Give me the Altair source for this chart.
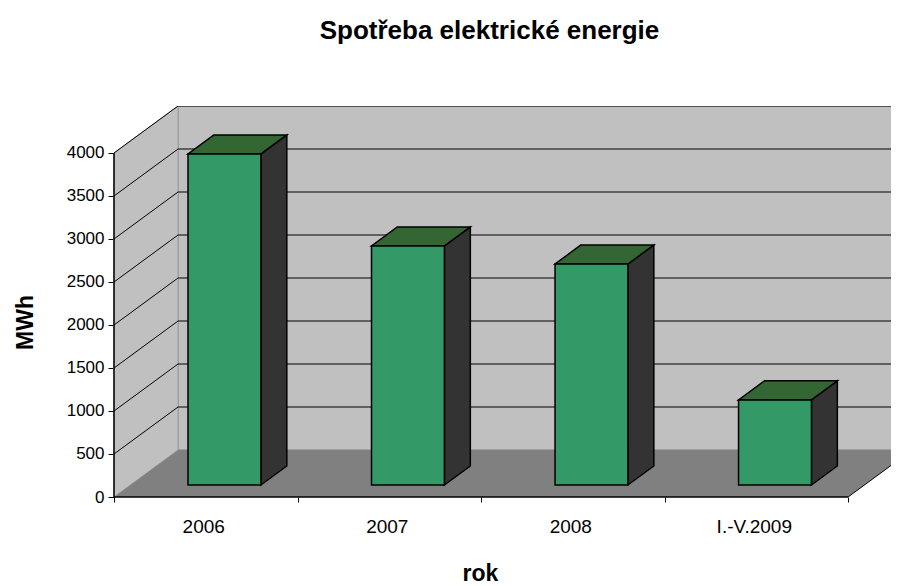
import altair as alt
import pandas as pd

categories = ["2006", "2007", "2008", "I.-V.2009"]
values = [3850, 2780, 2570, 990]
y_ticks = [0, 500, 1000, 1500, 2000, 2500, 3000, 3500, 4000]
x_ticks = [0, 1, 2, 3, 4]

FONT = "Liberation Sans"
DX, DY = 0.3488, 546.5
D1, D2 = 0.255, 0.66
LEFT, RIGHT = 0.3143, 0.7115
XMAX, YMAX = 4.234, 4546.5


def px(slot, d):
    return slot + d * DX


def py(v, d):
    return v + d * DY


xs = alt.Scale(domain=[0, XMAX], nice=False, zero=False)
ys = alt.Scale(domain=[0, YMAX], nice=False, zero=False)
x_axis_def = alt.Axis(
    values=x_ticks, labels=False, domain=False, grid=False, tickColor="black", tickSize=5,
    title="rok", titleFont=FONT, titleFontSize=23, titleFontWeight="bold", titleColor="black",
    titleX=366, titleY=76, titleAlign="center", titleBaseline="middle")
y_axis_def = alt.Axis(
    values=y_ticks, domain=False, grid=False, tickColor="black", tickSize=6, labelFont=FONT,
    labelFontSize=17, labelColor="black", labelPadding=4, format="d",
    title="MWh", titleFont=FONT, titleFontSize=23, titleFontWeight="bold", titleColor="black",
    titleX=-89, titleY=216, titleAlign="center", titleBaseline="middle", titleAngle=270)
X = lambda f="x": alt.X(f"{f}:Q", scale=xs, axis=x_axis_def)
Y = lambda f="y": alt.Y(f"{f}:Q", scale=ys, axis=y_axis_def)

wall_df = pd.DataFrame([{"x": px(0, 1), "x2": XMAX + 1, "y": 0 + DY, "y2": py(4000, 1)}])
wall = alt.Chart(wall_df).mark_rect(fill="#C0C0C0", stroke="#808080", strokeWidth=1, clip=True).encode(
    x=X(), x2="x2:Q", y=Y(), y2="y2:Q")

side_df = pd.DataFrame([
    {"x": 0, "y": 0, "y2": 4000},
    {"x": DX, "y": DY, "y2": py(4000, 1)},
])
side_wall = alt.Chart(side_df).mark_area(fill="#C0C0C0", stroke="#A0A0A0", strokeWidth=1).encode(
    x=X(), y=Y(), y2="y2:Q")

floor_df = pd.DataFrame([
    {"y": 0, "x": 0, "x2": 4},
    {"y": DY, "x": DX, "x2": 4 + DX},
])
floor = alt.Chart(floor_df).mark_area(fill="#808080", orient="horizontal", clip=True).encode(
    y=Y(), x=X(), x2="x2:Q")

grid_rows = []
for t in y_ticks[1:]:
    grid_rows += [
        {"t": t, "x": 0, "y": t, "o": 0},
        {"t": t, "x": DX, "y": py(t, 1), "o": 1},
        {"t": t, "x": XMAX + 1, "y": py(t, 1), "o": 2},
    ]
grid = alt.Chart(pd.DataFrame(grid_rows)).mark_line(color="black", strokeWidth=1, clip=True).encode(
    x=X(), y=Y(), detail="t:N", order="o:Q")

floor_edge_df = pd.DataFrame([{"x": 4, "y": 0}, {"x": 4 + DX, "y": DY}])
floor_edge = alt.Chart(floor_edge_df).mark_line(color="black", strokeWidth=1, clip=True).encode(x=X(), y=Y())

side_rows, top_rows, front_rows = [], [], []
for i, (c, v) in enumerate(zip(categories, values)):
    for d in (D1, D2):
        side_rows.append({"cat": c, "x": px(i + RIGHT, d), "y": py(0, d), "y2": py(v, d)})
        top_rows.append({"cat": c, "y": py(v, d), "x": px(i + LEFT, d), "x2": px(i + RIGHT, d)})
    front_rows.append({"cat": c, "x": px(i + LEFT, D1), "x2": px(i + RIGHT, D1), "y": py(0, D1), "y2": py(v, D1)})

bar_side = alt.Chart(pd.DataFrame(side_rows)).mark_area(fill="#333333", stroke="black", strokeWidth=1.5).encode(
    x=X(), y=Y(), y2="y2:Q", detail="cat:N")
bar_top = alt.Chart(pd.DataFrame(top_rows)).mark_area(fill="#336633", stroke="black", strokeWidth=1.5, orient="horizontal").encode(
    y=Y(), x=X(), x2="x2:Q", detail="cat:N")
bar_front = alt.Chart(pd.DataFrame(front_rows)).mark_rect(fill="#339966", stroke="black", strokeWidth=1.5).encode(
    x=X(), x2="x2:Q", y=Y(), y2="y2:Q")

axis_df = pd.DataFrame([{"x": 0, "y": 0, "x2": 4}])
x_rule = alt.Chart(axis_df).mark_rule(color="black", strokeWidth=1.5).encode(
    x=X(), x2="x2:Q", y=Y())

yaxis_df = pd.DataFrame([{"x": 0, "y": 0, "y2": 4000}])
y_rule = alt.Chart(yaxis_df).mark_rule(color="black", strokeWidth=1.5).encode(
    x=X(), y=Y(), y2="y2:Q")

label_df = pd.DataFrame({"cat": categories, "x": [i + 0.5 for i in range(len(categories))], "y": [0] * len(categories)})
labels = alt.Chart(label_df).mark_text(font=FONT, fontSize=19, color="black", dy=30, dx=-2, align="center", baseline="middle").encode(
    x=X(), y=Y(), text="cat:N")

chart = alt.layer(
    wall, side_wall, floor, grid, floor_edge, bar_side, bar_top, bar_front, x_rule, y_rule, labels
).properties(
    width=777,
    height=391,
    padding={"left": 106, "top": 98, "right": 0, "bottom": 89},
    autosize=alt.AutoSizeParams(type="none"),
    title=alt.TitleParams(
        "Spotřeba elektrické energie", font=FONT, fontSize=26, fontWeight="bold", color="black",
        anchor="middle", frame="group", dx=-13, offset=47, baseline="middle"),
    background="white",
).configure_view(stroke=None)

chart.save("out.html", embed_options={"renderer": "svg", "actions": False})
